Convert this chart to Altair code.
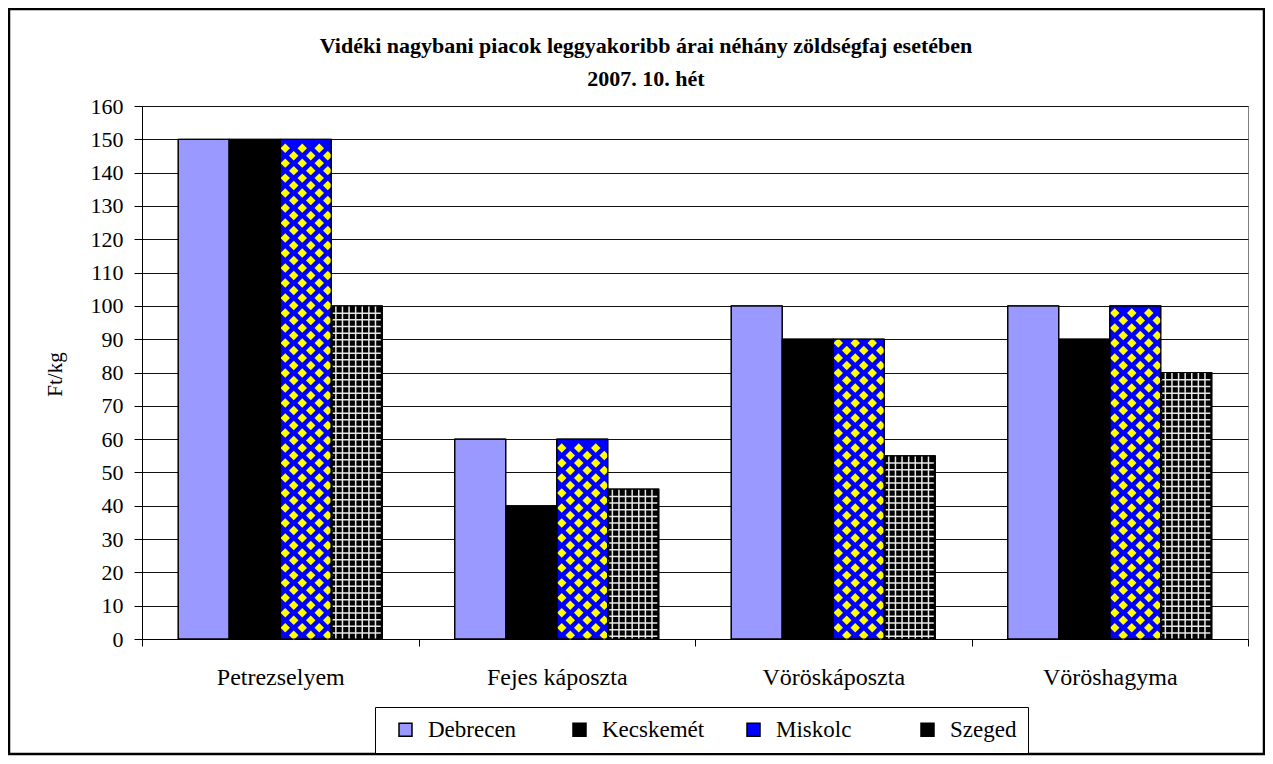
import altair as alt
import pandas as pd

# ---- data ----
categories = ["Petrezselyem", "Fejes káposzta", "Vöröskáposzta", "Vöröshagyma"]
series = ["Debrecen", "Kecskemét", "Miskolc", "Szeged"]
debrecen = [150, 60, 100, 100]
kecskemet = [150, 40, 90, 90]
miskolc = [150, 60, 90, 100]
szeged = [100, 45, 55, 80]
y_ticks = list(range(0, 161, 10))
title_lines = ["Vidéki nagybani piacok leggyakoribb árai néhány zöldségfaj esetében", "2007. 10. hét"]
y_title = "Ft/kg"

colors = ["#9999FF", "#000000", "#0000FF", "#000000"]

rows = []
for s, vals in zip(series, [debrecen, kecskemet, miskolc, szeged]):
    for c, v in zip(categories, vals):
        rows.append({"cat": c, "series": s, "value": v})
df = pd.DataFrame(rows)

# ---- layout ----
W, H = 1106, 533
FONT = "Liberation Serif"
PAD_OUT = 0.71
step = W / len(categories)
bar_w = step / (len(series) + 2 * PAD_OUT)
group_start = PAD_OUT * bar_w


def frac(series_idx, off):
    return (group_start + (series_idx + 0.5) * bar_w + off) / step


xaxis = alt.Axis(labelAngle=0, tickBand="extent", tickSize=7, tickColor="black",
                 domainColor="black", labelFont=FONT, labelFontSize=24,
                 labelColor="black", labelPadding=19, title=None, grid=False)
xscale = alt.Scale(paddingInner=0, paddingOuter=0)


def X(bp=None):
    kw = dict(sort=categories, scale=xscale, axis=xaxis, title=None)
    if bp is not None:
        kw["bandPosition"] = bp
    return alt.X("cat:N", **kw)


yscale = alt.Scale(domain=[0, 160], nice=False)
yaxis = alt.Axis(values=y_ticks, tickSize=8, tickColor="black", domainColor="black",
                 labelFont=FONT, labelFontSize=22, labelColor="black", labelPadding=11,
                 grid=True, gridColor="#111111", gridWidth=1,
                 title=y_title, titleFont=FONT, titleFontSize=21, titleFontWeight="normal",
                 titleColor="black", titleAngle=270, titleX=-87, titleY=268,
                 titleAlign="center", titleBaseline="middle")


def Y(field="value:Q"):
    return alt.Y(field, scale=yscale, axis=yaxis, title=y_title)


base = alt.Chart(df)

bars = base.mark_bar(stroke="black", strokeWidth=1).encode(
    x=X(),
    xOffset=alt.XOffset("series:N", sort=series,
                        scale=alt.Scale(paddingInner=0, paddingOuter=PAD_OUT)),
    y=Y(),
    color=alt.Color("series:N", sort=series,
                    scale=alt.Scale(domain=series, range=colors),
                    legend=alt.Legend(title=None, orient="none", direction="horizontal",
                                      legendX=233, legendY=601, padding=11,
                                      strokeColor="black", fillColor="white",
                                      gridAlign="all", columnPadding=29,
                                      symbolOffset=8, labelOffset=11,
                                      symbolType="square", symbolSize=169,
                                      symbolStrokeColor="black", symbolStrokeWidth=1.5,
                                      labelFont=FONT, labelFontSize=23,
                                      labelColor="black")),
)

layers = [bars]

# Miskolc: yellow diamonds on blue
ROW = 2.25
diam = base.transform_filter(alt.datum.series == "Miskolc").transform_calculate(
    rows=f"sequence(0, floor(datum.value / {ROW}) + 1)"
).transform_flatten(["rows"]).transform_calculate(
    yy=f"1.1 + datum.rows * {ROW}", parity="datum.rows % 2"
).transform_filter("datum.yy < datum.value - 1.0")

for parity, offs in [(0, [-12, 5, 22]), (1, [-20.5, -3.5, 13.5])]:
    for off in offs:
        layers.append(
            diam.transform_filter(f"datum.parity == {parity}")
            .mark_point(shape="diamond", filled=True, color="#FFFF00", size=90,
                        opacity=1, strokeWidth=0)
            .encode(x=X(frac(2, off)), y=Y("yy:Q"))
        )

# Szeged: black with light grid
grid_h = base.transform_filter(alt.datum.series == "Szeged").transform_calculate(
    rows="sequence(0, floor(datum.value / 2) + 1)"
).transform_flatten(["rows"]).transform_calculate(
    yy="datum.value - 2.2 - datum.rows * 2"
).transform_filter("datum.yy > 0.4")
layers.append(
    grid_h.mark_point(shape="stroke", filled=False, color="#E8E8E8", strokeWidth=1.5,
                      size=(bar_w - 3) ** 2, opacity=1)
    .encode(x=X(frac(3, 0)), y=Y("yy:Q"))
)
szeged_df = base.transform_filter(alt.datum.series == "Szeged")
for k in range(7):
    off = -bar_w / 2 + 4.6 + 6.6 * k
    layers.append(
        szeged_df.mark_rule(color="#E8E8E8", strokeWidth=1.5)
        .encode(x=X(frac(3, off)), y=Y(), y2=alt.datum(0))
    )

# bar outlines on top
outline = base.mark_bar(fillOpacity=0, stroke="black", strokeWidth=1.2).encode(
    x=X(),
    xOffset=alt.XOffset("series:N", sort=series,
                        scale=alt.Scale(paddingInner=0, paddingOuter=PAD_OUT)),
    y=Y(),
)
layers.append(outline)

# outer frame
frame = alt.Chart(alt.Data(values=[{"f": 1}])).mark_rect(
    fillOpacity=0, stroke="black", strokeWidth=2.5
).encode(x=alt.value(-133), x2=alt.value(1122), y=alt.value(-97), y2=alt.value(648))
layers.append(frame)

chart = alt.layer(*layers).properties(
    width=W, height=H,
    title=alt.TitleParams(text=title_lines, font=FONT, fontSize=22, fontWeight="bold",
                          color="black", anchor="middle", dx=-49, offset=-83,
                          lineHeight=33),
    autosize=alt.AutoSizeParams(type="none"),
    padding={"left": 134, "top": 98, "right": 17, "bottom": 117},
    background="white",
).configure_view(stroke="#808080", strokeWidth=1)

chart.save("out.html", embed_options={"renderer": "svg", "actions": False})
